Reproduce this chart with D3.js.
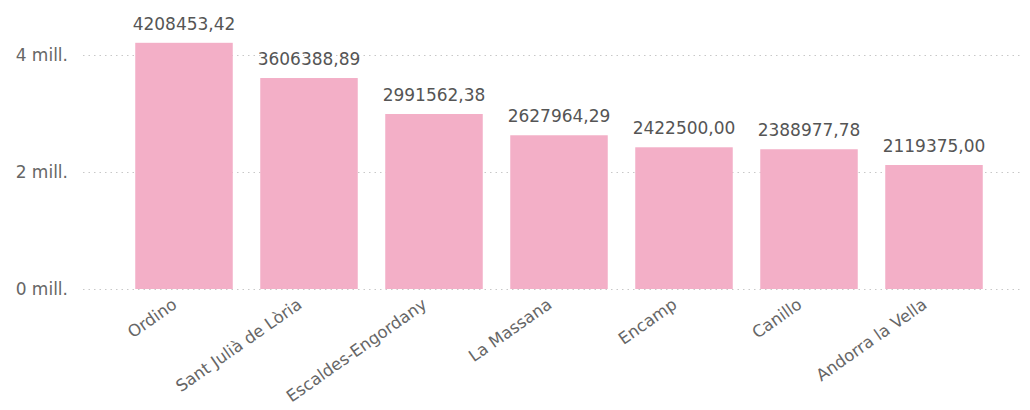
<!DOCTYPE html>
<html>
<head>
<meta charset="utf-8">
<script src="https://cdn.jsdelivr.net/npm/d3@7"></script>
<style>
  body { margin: 0; background: #fff; }
  text { font-family: "DejaVu Sans", sans-serif; }
</style>
</head>
<body>
<div id="chart"></div>
<script>
// data
let parishes = ["Ordino", "Sant Julià de Lòria", "Escaldes-Engordany", "La Massana", "Encamp", "Canillo", "Andorra la Vella"];
let values = [4208453.42, 3606388.89, 2991562.38, 2627964.29, 2422500.00, 2388977.78, 2119375.00];
let yTicks = [0, 2000000, 4000000];
let yTickLabels = ["0 mill.", "2 mill.", "4 mill."];

let svg = d3.select("#chart").append("svg")
    .attr("width", 1030)
    .attr("height", 410);

let data = parishes.map((p, i) => ({ name: p, value: values[i] }));

let x = d3.scaleBand()
    .domain(parishes)
    .range([121.5, 996.5])
    .paddingInner(0.22)
    .paddingOuter(0.11);

let y = d3.scaleLinear()
    .domain([0, 4000000])
    .range([289, 55]);

//gridlines
svg.append("g")
    .selectAll("line")
    .data(yTicks)
    .enter().append("line")
    .attr("x1", 83)
    .attr("x2", 1022)
    .attr("y1", d => y(d) + 0.5)
    .attr("y2", d => y(d) + 0.5)
    .attr("stroke", "#c8c8c8")
    .attr("stroke-width", 1)
    .attr("stroke-dasharray", "1.5,4");

//y axis labels
svg.append("g")
    .selectAll("text")
    .data(yTicks)
    .enter().append("text")
    .attr("x", 68)
    .attr("y", d => y(d))
    .attr("dy", "0.35em")
    .attr("text-anchor", "end")
    .attr("fill", "#666")
    .style("font-size", "17px")
    .text((d, i) => yTickLabels[i]);

//bars
svg.append("g")
    .selectAll("rect")
    .data(data)
    .enter().append("rect")
    .attr("x", d => x(d.name))
    .attr("y", d => y(d.value))
    .attr("width", x.bandwidth())
    .attr("height", d => y(0) - y(d.value))
    .attr("fill", "#f3afc7");

//value labels
let fmt = d3.formatLocale({ decimal: ",", thousands: "", grouping: [3], currency: ["", ""] }).format(".2f");
svg.append("g")
    .selectAll("text")
    .data(data)
    .enter().append("text")
    .attr("x", d => x(d.name) + x.bandwidth() / 2)
    .attr("y", d => y(d.value) - 13)
    .attr("text-anchor", "middle")
    .attr("fill", "#555")
    .style("font-size", "17px")
    .text(d => fmt(d.value));

//x axis labels
svg.append("g")
    .selectAll("text")
    .data(data)
    .enter().append("text")
    .attr("text-anchor", "end")
    .attr("fill", "#666")
    .style("font-size", "16.5px")
    .attr("transform", d => "translate(" + (x(d.name) + x.bandwidth() / 2 - 6) + "," + 307 + ") rotate(-35)")
    .text(d => d.name);
</script>
</body>
</html>
